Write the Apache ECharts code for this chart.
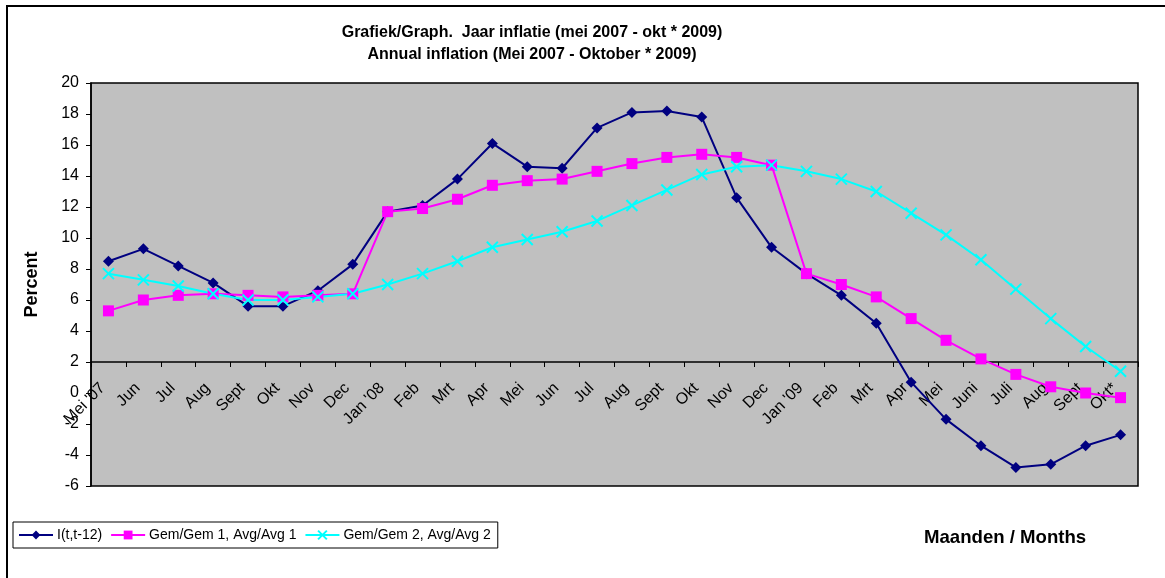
<!DOCTYPE html>
<html>
<head>
<meta charset="utf-8">
<script src="https://cdn.jsdelivr.net/npm/echarts@6/dist/echarts.min.js"></script>
<style>
html,body{margin:0;padding:0;background:#fff;}
#chart{width:1165px;height:578px;}
</style>
</head>
<body>
<div id="chart"></div>
<script>
const categories = ["Mei '07","Jun","Jul","Aug","Sept","Okt","Nov","Dec","Jan '08","Feb","Mrt","Apr","Mei","Jun","Jul","Aug","Sept","Okt","Nov","Dec","Jan '09","Feb","Mrt","Apr","Mei","Juni","Juli","Aug","Sept","Okt*"];
const inflation = [8.5,9.3,8.2,7.1,5.6,5.6,6.6,8.3,11.7,12.1,13.8,16.1,14.6,14.5,17.1,18.1,18.2,17.8,12.6,9.4,7.7,6.3,4.5,0.7,-1.7,-3.4,-4.8,-4.6,-3.4,-2.7];
const avg1 = [5.3,6.0,6.3,6.4,6.3,6.2,6.3,6.4,11.7,11.9,12.5,13.4,13.7,13.8,14.3,14.8,15.2,15.4,15.2,14.7,7.7,7.0,6.2,4.8,3.4,2.2,1.2,0.4,0.0,-0.3];
const avg2 = [7.7,7.3,6.9,6.4,6.0,6.0,6.2,6.4,7.0,7.7,8.5,9.4,9.9,10.4,11.1,12.1,13.1,14.1,14.6,14.7,14.3,13.8,13.0,11.6,10.2,8.6,6.7,4.8,3.0,1.4];
const seriesNames = ["I(t,t-12)","Gem/Gem 1, Avg/Avg 1","Gem/Gem 2, Avg/Avg 2"];
const yMin = -6, yMax = 20, yStep = 2, xCross = 2;

const FONT = '"Liberation Sans", Arial, sans-serif';
const gridTop = 83, gridHeight = 403;
const crossOffset = -(xCross - yMin) / (yMax - yMin) * gridHeight;

const chart = echarts.init(document.getElementById('chart'), null, {renderer: 'canvas'});
chart.setOption({
  animation: false,
  backgroundColor: '#fff',
  textStyle: {fontFamily: FONT},
  title: {
    text: 'Grafiek/Graph.  Jaar inflatie (mei 2007 - okt * 2009)\nAnnual inflation (Mei 2007 - Oktober * 2009)',
    left: 527, top: 17, textAlign: 'center',
    textStyle: {fontFamily: FONT, fontSize: 16, fontWeight: 'bold', color: '#000', lineHeight: 22}
  },
  graphic: [
    {type: 'rect', shape: {x: 7, y: 6, width: 1200, height: 620}, style: {fill: 'none', stroke: '#000', lineWidth: 2}, silent: true},
    {type: 'text', left: 924, top: 528, style: {text: 'Maanden / Months', font: 'bold 18.6px ' + FONT, fill: '#000'}}
  ],
  legend: {
    left: 13, top: 522, orient: 'horizontal',
    padding: [6, 7, 6, 5],
    borderColor: '#000', borderWidth: 1, backgroundColor: '#fff',
    itemWidth: 34, itemHeight: 11, itemGap: 8,
    textStyle: {fontFamily: FONT, fontSize: 14, color: '#000', padding: [0,0,0,-1]},
    data: seriesNames
  },
  grid: {
    left: 91, top: gridTop, width: 1047, height: gridHeight,
    show: true, backgroundColor: '#C0C0C0', borderColor: '#000', borderWidth: 1.5
  },
  xAxis: {
    type: 'category', data: categories, boundaryGap: true,
    offset: crossOffset,
    axisLine: {onZero: false, lineStyle: {color: '#000', width: 1.5}},
    axisTick: {show: true, length: 5, lineStyle: {color: '#000'}},
    axisLabel: {interval: 0, rotate: 45, margin: 18, padding: [0, 8, 0, 0], fontSize: 16, color: '#000', fontFamily: FONT},
    splitLine: {show: false}
  },
  yAxis: {
    type: 'value', min: yMin, max: yMax, interval: yStep,
    name: 'Percent', nameLocation: 'middle', nameRotate: 90, nameGap: 50,
    nameTextStyle: {fontFamily: FONT, fontSize: 18, fontWeight: 'bold', color: '#000'},
    axisLine: {show: true, lineStyle: {color: '#000', width: 1.5}},
    axisTick: {show: true, length: 5, lineStyle: {color: '#000'}},
    axisLabel: {fontSize: 16, color: '#000', margin: 12, fontFamily: FONT},
    splitLine: {show: false}
  },
  series: [
    {
      name: seriesNames[0], type: 'line', data: inflation,
      symbol: 'diamond', symbolSize: 11, showAllSymbol: true,
      lineStyle: {color: '#000080', width: 2},
      itemStyle: {color: '#000080', borderWidth: 0}
    },
    {
      name: seriesNames[1], type: 'line', data: avg1,
      symbol: 'rect', symbolSize: 11, showAllSymbol: true,
      lineStyle: {color: '#FF00FF', width: 2},
      itemStyle: {color: '#FF00FF', borderWidth: 0}
    },
    {
      name: seriesNames[2], type: 'line', data: avg2,
      symbol: 'path://M0,0L10,10M10,0L0,10', symbolSize: 11, showAllSymbol: true,
      lineStyle: {color: '#00FFFF', width: 2},
      itemStyle: {color: '#00FFFF', borderColor: '#00FFFF', borderWidth: 2}
    }
  ]
});
</script>
</body>
</html>
